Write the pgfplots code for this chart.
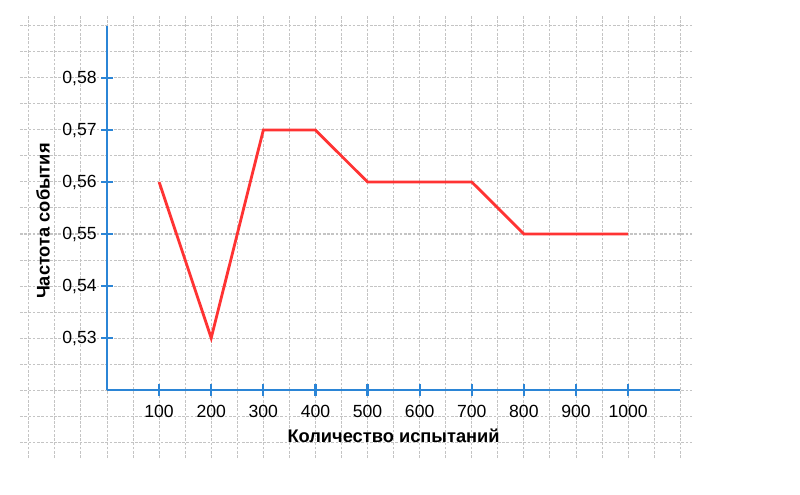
\documentclass[border=0pt]{standalone}
\usepackage{pgfplots}
\pgfplotsset{compat=1.18}
\usepackage{fontspec}
\setmainfont{Liberation Sans}
\definecolor{axblue}{RGB}{43,133,214}
\definecolor{lnred}{RGB}{255,51,51}
\definecolor{gridgray}{RGB}{196,196,196}
\begin{document}
\begin{tikzpicture}
\path[use as bounding box] (-80.25pt,-78pt) rectangle (519.75pt,292.5pt);
% grid axis
\begin{axis}[
  at={(-65.27pt,-51.01pt)}, anchor=south west,
  scale only axis, width=503.8pt, height=332.2pt,
  xmin=-167, xmax=1122, ymin=0.50692, ymax=0.5921,
  xtick={-150,-100,...,1100}, ytick={0.51,0.515,...,0.5901},
  xticklabels={}, yticklabels={},
  major tick length=0pt,
  axis line style={draw=none},
  grid=major,
  major grid style={gridgray, line width=0.75pt, dash pattern=on 2pt off 1.2pt},
]
\end{axis}
% data axis
\begin{axis}[
  at={(0pt,0pt)}, anchor=south west,
  scale only axis, width=429.9pt, height=273pt,
  xmin=0, xmax=1100, ymin=0.52, ymax=0.59,
  axis lines=left,
  axis line style={axblue, line width=2.1pt, -},
  xtick={100,200,...,1000},
  ytick={0.53,0.54,0.55,0.56,0.57,0.58},
  tick align=center,
  major tick length=8.5pt,
  tick style={axblue, line width=1.6pt},
  /pgf/number format/assume math mode=true,
  /pgf/number format/.cd, use comma, fixed, fixed zerofill, precision=2, 1000 sep={},
  /pgfplots/.cd,
  ticklabel style={font=\fontsize{13.2pt}{15pt}\selectfont, text=black},
  xticklabel style={yshift=-3.5pt},
  xticklabel={\pgfmathprintnumber[fixed, precision=0, 1000 sep={}]{\tick}},
  xlabel={Количество испытаний},
  ylabel={Частота события},
  label style={font=\bfseries\fontsize{13.7pt}{15pt}\selectfont},
  xlabel style={at={(axis description cs:0.5,-0.1264)}, anchor=center},
  ylabel style={at={(axis description cs:-0.1117,0.464)}, anchor=center, rotate=0},
  clip=false,
]
\addplot[lnred, line width=2.1pt, line join=miter, mark=none] coordinates {
  (100,0.56) (200,0.53) (300,0.57) (400,0.57) (500,0.56)
  (600,0.56) (700,0.56) (800,0.55) (900,0.55) (1000,0.55)
};
\end{axis}
\end{tikzpicture}
\end{document}
